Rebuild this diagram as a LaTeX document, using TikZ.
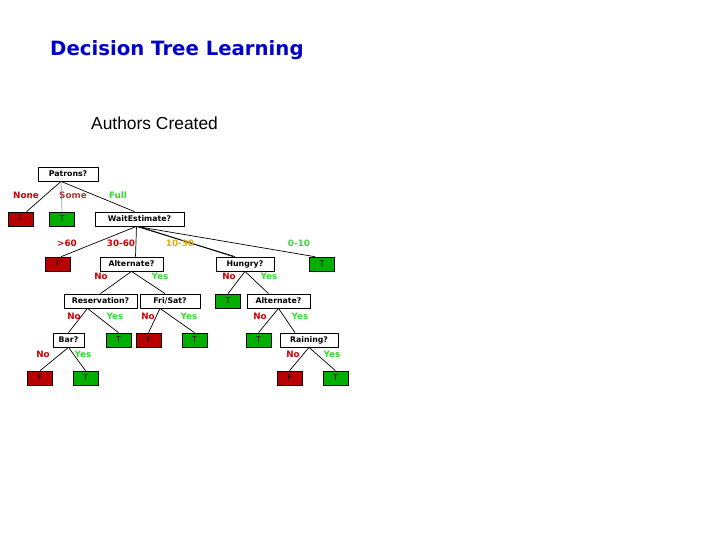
\documentclass[tikz,border=0pt]{standalone}
\usepackage{fontspec}
\setmainfont{Liberation Sans}
\newfontfamily\dejavu{DejaVu Sans}
\definecolor{titleblue}{RGB}{0,0,200}
\definecolor{leafred}{RGB}{185,0,0}
\definecolor{leafgreen}{RGB}{0,175,0}
\definecolor{labred}{RGB}{205,0,0}
\definecolor{labgreen}{RGB}{60,215,60}
\definecolor{laborange}{RGB}{235,170,0}
\definecolor{labbrown}{RGB}{170,60,60}
\begin{document}
\begin{tikzpicture}[x=1pt,y=-1pt,
  qbox/.style={draw=black,fill=white,line width=0.8pt,minimum height=14pt,inner sep=0pt,
    font=\dejavu\fontsize{7.8}{8}\selectfont\bfseries},
  leafF/.style={draw=black,fill=leafred,line width=0.6pt,minimum width=25pt,minimum height=14pt,inner sep=0pt,
    font=\dejavu\fontsize{7.8}{8}\selectfont},
  leafT/.style={draw=black,fill=leafgreen,line width=0.6pt,minimum width=25pt,minimum height=14pt,inner sep=0pt,
    font=\dejavu\fontsize{7.8}{8}\selectfont},
  lab/.style={inner sep=0pt,font=\dejavu\fontsize{8.8}{9}\selectfont\bfseries},
  edge/.style={draw=black,line width=0.7pt}]
\useasboundingbox (0,0) rectangle (720,540);
\node[anchor=base west,inner sep=0pt,text=titleblue,font=\dejavu\fontsize{19.7}{22}\selectfont\bfseries] (title) at (50,56) {Decision Tree Learning};
\node[anchor=base west,inner sep=0pt,font=\fontsize{17.4}{19}\selectfont] (sub) at (91,129.5) {Authors Created};

% level 0
\node[qbox,minimum width=60pt] (pat) at (68,174) {Patrons?};
% level 1
\node[leafF] (f1) at (20.5,219) {F};
\node[leafT] (t1) at (62,219) {T};
\node[qbox,minimum width=89pt] (wait) at (139.5,219) {WaitEstimate?};
% level 2
\node[leafF] (f2) at (58,264) {F};
\node[qbox,minimum width=63pt] (alt1) at (131.5,264) {Alternate?};
\node[qbox,minimum width=58pt] (hun) at (245,264) {Hungry?};
\node[leafT] (t2) at (322,264) {T};
% level 3
\node[qbox,minimum width=73pt] (res) at (100.5,301) {Reservation?};
\node[qbox,minimum width=60pt] (fri) at (170,301) {Fri/Sat?};
\node[leafT] (t3) at (228,301) {T};
\node[qbox,minimum width=63pt] (alt2) at (278.5,301) {Alternate?};
% level 4
\node[qbox,minimum width=31pt] (bar) at (68.5,340) {Bar?};
\node[leafT] (t4) at (118.5,340) {T};
\node[leafF] (f4) at (148.5,340) {F};
\node[leafT] (t5) at (194.5,340) {T};
\node[leafT] (t6) at (258.5,340) {T};
\node[qbox,minimum width=58pt] (rain) at (309,340) {Raining?};
% level 5
\node[leafF] (f5) at (40,378) {F};
\node[leafT] (t7) at (85.5,378) {T};
\node[leafF] (f6) at (289.5,378) {F};
\node[leafT] (t8) at (335.5,378) {T};

% edges
\draw[edge] ([xshift=-7pt]pat.south) -- ([xshift=6pt]f1.north);
\draw[edge,draw=gray!80] ([xshift=-7pt]pat.south) -- (t1.north);
\draw[edge] ([xshift=-7pt]pat.south) -- ([xshift=-5pt]wait.north);
\draw[edge] ([xshift=-3pt]wait.south) -- ([xshift=3pt]f2.north);
\draw[edge] ([xshift=-3pt]wait.south) -- ([xshift=4pt]alt1.north);
\draw[edge] ([xshift=-3pt]wait.south) -- ([xshift=-10pt]hun.north);
\draw[edge] ([xshift=-1pt]wait.south) -- ([xshift=-12pt]hun.north);
\draw[edge] ([xshift=-3pt]wait.south) -- ([xshift=-7pt]t2.north);
\draw[edge] (alt1.south) -- (res.north);
\draw[edge] (alt1.south) -- ([xshift=-5pt]fri.north);
\draw[edge] (hun.south) -- (t3.north);
\draw[edge] (hun.south) -- ([xshift=-10pt]alt2.north);
\draw[edge] ([xshift=-13pt]res.south) -- (bar.north);
\draw[edge] ([xshift=-13pt]res.south) -- (t4.north);
\draw[edge] ([xshift=-10pt]fri.south) -- (f4.north);
\draw[edge] ([xshift=-10pt]fri.south) -- (t5.north);
\draw[edge] (alt2.south) -- (t6.north);
\draw[edge] (alt2.south) -- ([xshift=-14pt]rain.north);
\draw[edge] (bar.south) -- (f5.north);
\draw[edge] (bar.south) -- (t7.north);
\draw[edge] (rain.south) -- (f6.north);
\draw[edge] (rain.south) -- (t8.north);

% labels
\node[lab,text=labred] (lnone) at (26,195) {None};
\node[lab,text=labbrown] (lsome) at (73,195) {Some};
\node[lab,text=labgreen] (lfull) at (118,195) {Full};
\node[lab,text=labred] (l60) at (67,243) {>60};
\node[lab,text=labred] (l3060) at (121,243) {30-60};
\node[lab,text=laborange] (l1030) at (180,243) {10-30};
\node[lab,text=labgreen] (l010) at (299,243) {0-10};
\node[lab,text=labred] (a1no) at (101,276) {No};
\node[lab,text=labgreen] (a1yes) at (160,276) {Yes};
\node[lab,text=labred] (hno) at (229,276) {No};
\node[lab,text=labgreen] (hyes) at (269,276) {Yes};
\node[lab,text=labred] (rno) at (74,316) {No};
\node[lab,text=labgreen] (ryes) at (115,316) {Yes};
\node[lab,text=labred] (fno) at (148,316) {No};
\node[lab,text=labgreen] (fyes) at (189,316) {Yes};
\node[lab,text=labred] (a2no) at (260,316) {No};
\node[lab,text=labgreen] (a2yes) at (300,316) {Yes};
\node[lab,text=labred] (bno) at (43,354) {No};
\node[lab,text=labgreen] (byes) at (83,354) {Yes};
\node[lab,text=labred] (rnno) at (293,354) {No};
\node[lab,text=labgreen] (rnyes) at (332,354) {Yes};
\end{tikzpicture}
\end{document}
